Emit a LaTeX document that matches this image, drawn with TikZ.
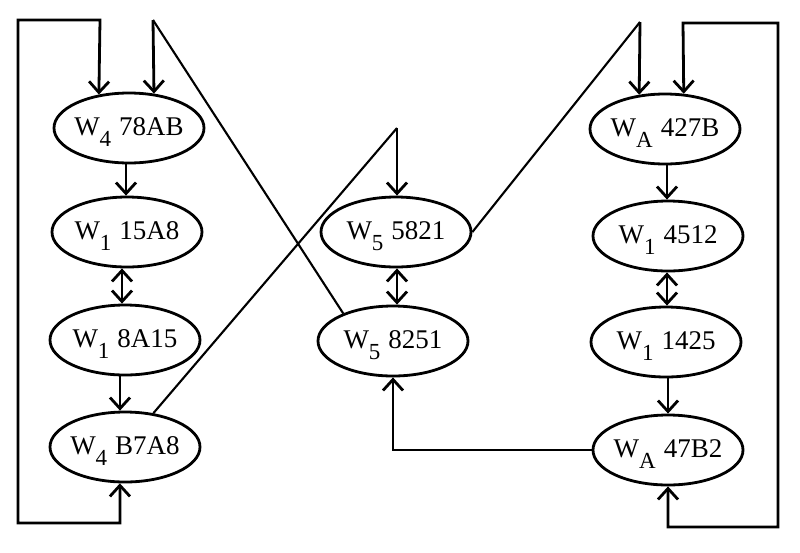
\documentclass[tikz,border=0pt]{standalone}
\usepackage{fontspec}
\setmainfont{Liberation Serif}
\usetikzlibrary{arrows.meta,shapes.geometric}
\newcommand{\wlab}[2]{\makebox[0pt]{\raisebox{-7pt}{W\raisebox{-11pt}{\fontsize{23}{23}\selectfont #1}\hspace{8pt}#2}}}
\begin{document}
\begin{tikzpicture}[x=1pt,y=-1pt,
  font=\fontsize{27}{27}\selectfont,
  >={Straight Barb[length=11pt,width=20pt]},
  ell/.style={ellipse,draw,line width=2.8pt,minimum width=150pt,minimum height=70pt,
    inner sep=0pt,text height=0pt,text depth=0pt},
  conn/.style={line width=2.8pt},
  diag/.style={line width=2.1pt}]
\useasboundingbox (0,0) rectangle (800,552);

% left column
\node[ell] (n1) at (129,128) {\wlab{4}{78AB}};
\node[ell] (n2) at (127,232) {\wlab{1}{15A8}};
\node[ell] (n3) at (125,340) {\wlab{1}{8A15}};
\node[ell] (n4) at (125,447) {\wlab{4}{B7A8}};
% middle column
\node[ell] (m1) at (396,232) {\wlab{5}{5821}};
\node[ell] (m2) at (393,341) {\wlab{5}{8251}};
% right column
\node[ell] (r1) at (665,129) {\wlab{A}{427B}};
\node[ell] (r2) at (668,236) {\wlab{1}{4512}};
\node[ell] (r3) at (666,342) {\wlab{1}{1425}};
\node[ell] (r4) at (668,450) {\wlab{A}{47B2}};

% corner coordinates
\coordinate (a1) at (100,20);
\coordinate (a2) at (18,20);
\coordinate (a3) at (18,523);
\coordinate (a4) at (120,523);
\coordinate (b1) at (153,20);
\coordinate (c1) at (397,128);
\coordinate (d1) at (640,22);
\coordinate (e1) at (683,23);
\coordinate (e2) at (778,23);
\coordinate (e3) at (778,527);
\coordinate (e4) at (668,527);

% vertical arrows
\draw[conn,->] ([xshift=-3pt]n1.south) -- ([xshift=-1pt]n2.north);
\draw[conn,<->] ([xshift=-5pt]n2.south) -- ([xshift=-3pt]n3.north);
\draw[conn,->] ([xshift=-5pt]n3.south) -- ([xshift=-5pt]n4.north);
\draw[conn,<->] ([xshift=1pt]m1.south) -- ([xshift=4pt]m2.north);
\draw[conn,->] ([xshift=2pt]r1.south) -- ([xshift=-1pt]r2.north);
\draw[conn,<->] ([xshift=-1pt]r2.south) -- ([xshift=1pt]r3.north);
\draw[conn,->] ([xshift=2pt]r3.south) -- (r4.north);

% left loop
\draw[conn,<->] (n1.132) -- (a1) -- (a2) -- (a3) -- (a4) -- (n4.262);
% crossing lines
\draw[diag] (m2.151) -- (b1);
\draw[conn,->] (b1) -- (n1.54);
\draw[diag] (n4.50) -- (c1);
\draw[conn,->] (c1) -- ([xshift=1pt]m1.north);
\draw[diag] (m1.east) -- (d1);
\draw[conn,->] (d1) -- (r1.127);
% right loop
\draw[conn,<->] (r1.62) -- (e1) -- (e2) -- (e3) -- (e4) -- (r4.south);
% bottom connector
\draw[conn,->] (r4.west) -| (m2.south);
\end{tikzpicture}
\end{document}
